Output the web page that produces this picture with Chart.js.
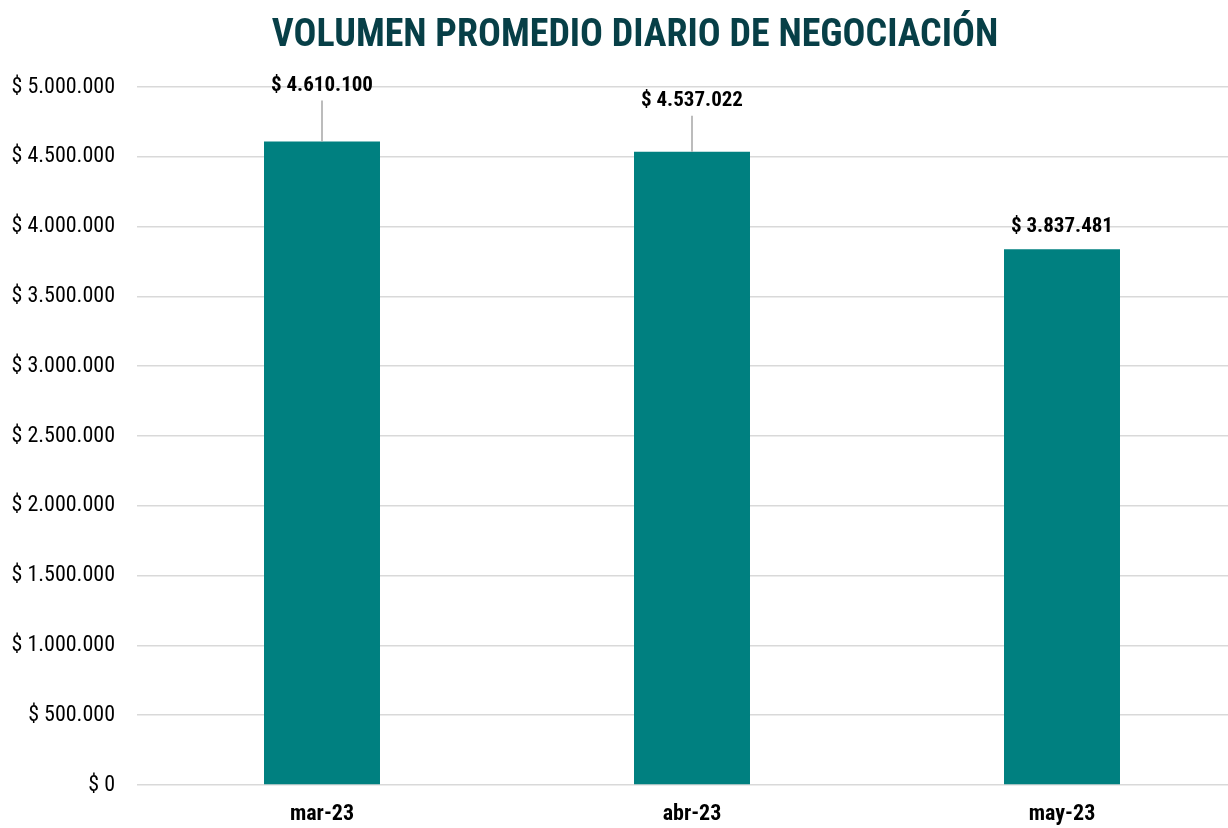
<!DOCTYPE html>
<html>
<head>
<meta charset="utf-8">
<script src="https://cdn.jsdelivr.net/npm/chart.js@4.4.1/dist/chart.umd.min.js"></script>
<style>
  html, body { margin: 0; padding: 0; background: #ffffff; overflow: hidden; }
  #wrap { width: 1247px; height: 828px; position: relative; }
</style>
</head>
<body>
<div id="wrap"><canvas id="c"></canvas></div>
<script>
const chartTitle = "VOLUMEN PROMEDIO DIARIO DE NEGOCIACIÓN";
const categories = ["mar-23", "abr-23", "may-23"];
const volumes = [4610100, 4537022, 3837481];
const yTickValues = [0, 500000, 1000000, 1500000, 2000000, 2500000, 3000000, 3500000, 4000000, 4500000, 5000000];

const FONT = "'Liberation Sans Narrow', 'Arial Narrow', 'Roboto Condensed', 'Liberation Sans', sans-serif";

function fmt(v) {
  const s = Math.round(v).toString();
  return "$ " + s.replace(/\B(?=(\d{3})+(?!\d))/g, ".");
}

const titlePlugin = {
  id: 'customTitle',
  afterDraw(chart, args, opts) {
    const ctx = chart.ctx;
    ctx.save();
    ctx.font = "bold 38px " + FONT;
    ctx.fillStyle = "#073f47";
    ctx.textAlign = "center";
    ctx.textBaseline = "middle";
    ctx.fillText(opts.text, opts.x, opts.y);
    ctx.restore();
  }
};

const labelPlugin = {
  id: 'barLabels',
  afterDatasetsDraw(chart, args, opts) {
    const ctx = chart.ctx;
    const meta = chart.getDatasetMeta(0);
    ctx.save();
    meta.data.forEach((bar, i) => {
      const v = chart.data.datasets[0].data[i];
      const off = opts.offsets[i];
      const ly = bar.y - off;
      if (off > 35) {
        ctx.strokeStyle = "#a6a6a6";
        ctx.lineWidth = 1.5;
        ctx.beginPath();
        ctx.moveTo(bar.x, ly + 15);
        ctx.lineTo(bar.x, bar.y);
        ctx.stroke();
      }
      ctx.font = "bold 21px " + FONT;
      ctx.fillStyle = "#000000";
      ctx.textAlign = "center";
      ctx.textBaseline = "middle";
      ctx.fillText(fmt(v), bar.x, ly);
    });
    ctx.restore();
  }
};

new Chart(document.getElementById('c'), {
  type: 'bar',
  data: {
    labels: categories,
    datasets: [{
      data: volumes,
      backgroundColor: "#008080",
      borderWidth: 0,
      barPercentage: 1.0,
      categoryPercentage: 0.3135
    }]
  },
  options: {
    responsive: true,
    maintainAspectRatio: false,
    animation: false,
    layout: { padding: { top: 87, right: 0, bottom: 0, left: 0 } },
    plugins: {
      legend: { display: false },
      tooltip: { enabled: false },
      title: { display: false },
      customTitle: { text: chartTitle, x: 635, y: 36 },
      barLabels: { offsets: [56, 51, 23] }
    },
    scales: {
      x: {
        grid: { display: false },
        border: { display: false },
        afterFit(scale) { scale.height = 43; },
        ticks: {
          color: "#000000",
          font: { family: FONT, size: 22, weight: 'bold' },
          padding: 8
        }
      },
      y: {
        min: 0,
        max: 5000000,
        afterBuildTicks(scale) {
          scale.ticks = yTickValues.map(v => ({ value: v }));
        },
        afterFit(scale) { scale.width = 137; },
        grid: { color: "#d9d9d9", lineWidth: 1.5, drawTicks: false },
        border: { display: false },
        ticks: {
          color: "#000000",
          font: { family: FONT, size: 22 },
          padding: 22,
          callback: (v) => fmt(v)
        }
      }
    }
  },
  plugins: [titlePlugin, labelPlugin]
});
</script>
</body>
</html>
